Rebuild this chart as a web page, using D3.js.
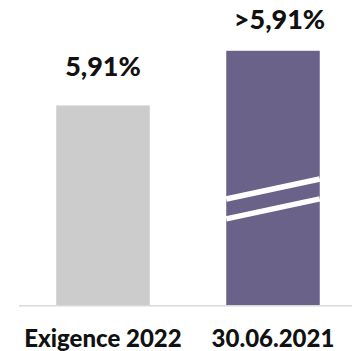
<!DOCTYPE html>
<html>
<head>
<meta charset="utf-8">
<script src="https://cdn.jsdelivr.net/npm/d3@7"></script>
<style>
  html, body { margin: 0; padding: 0; background: #ffffff; }
  svg { display: block; }
  text { font-family: Lato, "Noto Sans", sans-serif; font-weight: 900; fill: #111111; }
</style>
</head>
<body>
<svg id="chart" width="352" height="351"></svg>
<script>
// Categories and values
const categories = ["Exigence 2022", "30.06.2021"];
const values = [5.91, 7.53];          // second bar drawn with a break, true value above 5.91
const valueLabels = ["5,91%", ">5,91%"];
const barColors = ["#cccccc", "#6a6288"];

const W = 352, H = 351;
const baseY = 305;

const svg = d3.select("#chart");

const x = d3.scaleBand()
  .domain(categories)
  .range([18, 358])
  .paddingInner(0.45)
  .paddingOuter(0.225);

const y = d3.scaleLinear()
  .domain([0, 9])
  .range([baseY, baseY - 9 * 33.76]);

// Bars
svg.selectAll("rect.bar")
  .data(categories)
  .join("rect")
  .attr("class", "bar")
  .attr("x", d => x(d))
  .attr("width", x.bandwidth())
  .attr("y", (d, i) => y(values[i]))
  .attr("height", (d, i) => y(0) - y(values[i]))
  .attr("fill", (d, i) => barColors[i]);

// Break marks on the second bar
const bx0 = x(categories[1]), bx1 = bx0 + x.bandwidth();
const breaks = [3.14, 2.55];
svg.selectAll("line.break")
  .data(breaks)
  .join("line")
  .attr("class", "break")
  .attr("x1", bx0).attr("y1", d => y(d))
  .attr("x2", bx1).attr("y2", d => y(d) - 20)
  .attr("stroke", "#ffffff")
  .attr("stroke-width", 5.5);

// Baseline
svg.append("line")
  .attr("x1", 19).attr("x2", W)
  .attr("y1", baseY + 0.75).attr("y2", baseY + 0.75)
  .attr("stroke", "#d9d9d9")
  .attr("stroke-width", 1.5);

// Value labels
const labelShift = [0, 6.5];
svg.selectAll("text.value")
  .data(categories)
  .join("text")
  .attr("class", "value")
  .attr("x", (d, i) => x(d) + x.bandwidth() / 2 + labelShift[i])
  .attr("y", (d, i) => y(values[i]) - (i === 0 ? 29.5 : 22))
  .attr("text-anchor", "middle")
  .style("font-size", "27px")
  .text((d, i) => valueLabels[i]);

// Category labels
svg.selectAll("text.cat")
  .data(categories)
  .join("text")
  .attr("class", "cat")
  .attr("x", d => x(d) + x.bandwidth() / 2)
  .attr("y", 347)
  .attr("text-anchor", "middle")
  .style("font-size", "24px")
  .text(d => d);
</script>
</body>
</html>
